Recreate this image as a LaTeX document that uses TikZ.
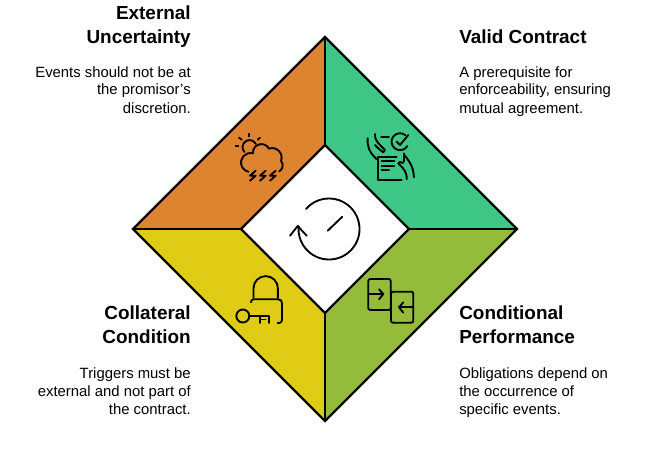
\documentclass[tikz,border=0pt]{standalone}
\usepackage{fontspec}
\setmainfont{Liberation Sans}
\usetikzlibrary{positioning}
\definecolor{segorange}{HTML}{DE8430}
\definecolor{seggreen}{HTML}{3EC787}
\definecolor{seglime}{HTML}{95BB3B}
\definecolor{segyellow}{HTML}{E0CB15}
\tikzset{
	seg/.style={draw=black,line width=1.6pt,line join=miter},
	icon/.style={draw=black,line width=1.4pt,line cap=round,line join=round,fill=none},
	title/.style={font=\bfseries\fontsize{14.2}{18}\selectfont,inner sep=0pt},
	body/.style={font=\fontsize{11.15}{13.5}\selectfont,inner sep=0pt},
}
\begin{document}
\begin{tikzpicture}[x=7.5pt,y=7.5pt]
		\useasboundingbox (0,0) rectangle (65,-47.1);
		% corners of the two squares
		\coordinate (outertop) at (32.5,-3.7);
		\coordinate (outerright) at (51.7,-22.9);
		\coordinate (outerbottom) at (32.5,-42.1);
		\coordinate (outerleft) at (13.3,-22.9);
		\coordinate (innertop) at (32.5,-14.5);
		\coordinate (innerright) at (40.9,-22.9);
		\coordinate (innerbottom) at (32.5,-31.3);
		\coordinate (innerleft) at (24.1,-22.9);
		\fill [segorange] (outerleft) -- (outertop) -- (innertop) -- (innerleft) -- cycle;
		\fill [seggreen] (outertop) -- (outerright) -- (innerright) -- (innertop) -- cycle;
		\fill [seglime] (outerright) -- (outerbottom) -- (innerbottom) -- (innerright) -- cycle;
		\fill [segyellow] (outerbottom) -- (outerleft) -- (innerleft) -- (innerbottom) -- cycle;
		\draw [seg] (outertop) -- (outerright) -- (outerbottom) -- (outerleft) -- cycle;
		\draw [seg] (innertop) -- (innerright) -- (innerbottom) -- (innerleft) -- cycle;
		\draw [seg] (outertop) -- (innertop);
		\draw [seg] (outerright) -- (innerright);
		\draw [seg] (outerbottom) -- (innerbottom);
		\draw [seg] (outerleft) -- (innerleft);
		% centre
		\draw [icon] (30.6,-20.9) arc (139:-185:3.05);
		\draw [icon] (29,-23.57) -- (29.77,-22.6) -- (30.67,-23.57);
		\draw [icon] (32.77,-23.07) -- (34.23,-21.67);
		% weather
		\draw [icon] (24.93,-13.37) -- (24.93,-13.63);
		\draw [icon] (23.9,-13.77) -- (24.17,-13.97);
		\draw [icon] (26,-13.77) -- (25.77,-13.97);
		\draw [icon] (23.57,-14.57) -- (23.83,-14.57);
		\draw [icon] (25.58,-14.4) arc (26:224:0.7);
		\draw [icon] (24.85,-17.18) arc (258:75:0.95) arc (185:28:0.85) arc (110:-20:0.95) arc (40:-60:0.7);
		\foreach \dx in {0,1,2}
			\draw [icon,xshift=\dx*7.5pt] (25.57,-17.07) -- (25,-17.57) -- (25.57,-17.57) -- (25,-18.07);
		% contract
		\draw [icon] (39.67,-15.73) -- (37.83,-15.73) -- (37.83,-18) -- (40.17,-18);
		\draw [icon] (40.43,-15.33) -- (40.43,-16.17);
		\draw [icon] (38.17,-16.07) -- (39.43,-16.07);
		\draw [icon] (38.17,-16.57) -- (39.43,-16.57);
		\draw [icon] (38.17,-17) -- (38.9,-17);
		\draw [icon] (38.1,-13.73) -- (38.9,-13.73);
		\draw [icon] (40.55,-13.52) arc (50:330:0.85);
		\draw [icon] (39.67,-14.17) -- (40,-14.5) -- (40.83,-13.5);
		\draw [icon] (36.77,-13.83) .. controls (36.7,-14.6) and (36.9,-15.2) .. (37.67,-15.93);
		\draw [icon] (37.5,-13.4) .. controls (37.5,-14) and (37.6,-14.1) .. (38.5,-15)
			-- (38.33,-15.23) .. controls (38.1,-15.1) and (37.9,-14.9) .. (37.5,-14.5);
		\draw [icon] (41.4,-17.73) .. controls (41.3,-16.6) and (41,-16.2) .. (40.43,-15.5);
		\draw [icon] (40.67,-17.93) .. controls (40.7,-17.2) and (40.4,-16.9) .. (39.83,-16.33)
			.. controls (39.9,-16.1) and (40.1,-16.2) .. (40.3,-16.3);
		% lock and key
		\draw [icon] (25.35,-29.83) -- (25.35,-28.83) arc (180:0:1.22) -- (27.79,-29.83);
		\draw [icon] (25.1,-30.23) .. controls (25.1,-30) and (25.2,-29.93) .. (25.4,-29.93)
			-- (27.8,-29.93) .. controls (28.1,-29.93) and (28.2,-30.1) .. (28.2,-30.33)
			-- (28.2,-32) .. controls (28.2,-32.2) and (28.1,-32.3) .. (27.75,-32.3);
		\draw [icon] (24.28,-31.6) circle (0.65);
		\draw [icon] (24.95,-31.57) -- (26.87,-31.57) -- (26.87,-32.3);
		\draw [icon] (26,-32.3) -- (26,-31.57);
		\draw [icon] (26,-31.95) -- (26.55,-31.95);
		% exchange
		\draw [icon,rounded corners=1.5pt] (36.83,-27.9) rectangle (39.07,-31);
		\draw [icon,rounded corners=1.5pt] (39.1,-29.17) rectangle (41.33,-32.27);
		\draw [icon] (36.9,-29.4) -- (38.33,-29.4);
		\draw [icon] (37.9,-28.93) -- (38.33,-29.4) -- (37.9,-29.93);
		\draw [icon] (41.33,-30.73) -- (39.9,-30.73);
		\draw [icon] (40.33,-30.23) -- (39.9,-30.73) -- (40.33,-31.27);
		% texts
		\node [title,anchor=base east,align=right] (uncertaintytitle) at (19.1,-4.3) {External\\Uncertainty};
		\node [body,anchor=base east,align=right] (uncertaintybody) at (19.1,-11.3) {Events should not be at\\the promisor{\char39}s\\discretion.};
		\node [title,anchor=base west,align=left] (validtitle) at (45.9,-4.3) {Valid Contract};
		\node [body,anchor=base west,align=left] (validbody) at (45.9,-11.3) {A prerequisite for\\enforceability, ensuring\\mutual agreement.};
		\node [title,anchor=base east,align=right] (collateraltitle) at (19.1,-34.3) {Collateral\\Condition};
		\node [body,anchor=base east,align=right] (collateralbody) at (19.1,-41.4) {Triggers must be\\external and not part of\\the contract.};
		\node [title,anchor=base west,align=left] (conditionaltitle) at (45.9,-34.3) {Conditional\\Performance};
		\node [body,anchor=base west,align=left] (conditionalbody) at (45.9,-41.4) {Obligations depend on\\the occurrence of\\specific events.};
		\end{tikzpicture}
\end{document}
